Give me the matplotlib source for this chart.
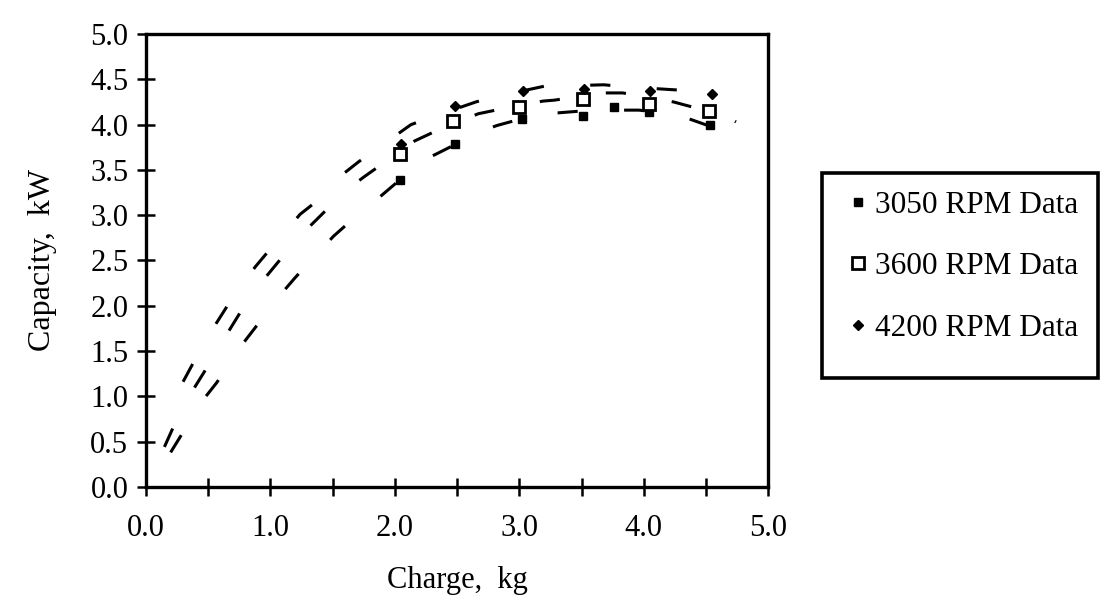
import matplotlib
matplotlib.use("Agg")
import matplotlib.pyplot as plt
from matplotlib.patches import Rectangle
from matplotlib.ticker import MultipleLocator, FormatStrFormatter

charge_3050 = [2.04, 2.48, 3.02, 3.51, 3.76, 4.04, 4.53]
cap_3050 = [3.39, 3.79, 4.06, 4.09, 4.20, 4.14, 4.00]
charge_3600 = [2.04, 2.47, 3.00, 3.51, 4.04, 4.52]
cap_3600 = [3.68, 4.04, 4.20, 4.28, 4.23, 4.15]
charge_4200 = [2.05, 2.48, 3.03, 3.52, 4.05, 4.55]
cap_4200 = [3.79, 4.21, 4.37, 4.39, 4.37, 4.34]

# dashed model curves, traced point by point
curve_x_3050 = [0.20, 0.33, 0.455, 0.57, 0.74, 0.875, 1.05, 1.20, 1.38, 1.51,
                1.715, 1.87, 2.22, 2.34, 2.70, 2.82, 3.19, 3.31, 3.59, 3.64,
                3.88, 3.96, 4.27, 4.35, 4.68, 4.76]
curve_y_3050 = [0.38, 0.67, 0.95, 1.15, 1.51, 1.75, 2.07, 2.31, 2.58, 2.77,
                3.02, 3.19, 3.60, 3.68, 3.93, 3.99, 4.13, 4.13, 4.16, 4.16,
                4.16, 4.16, 4.11, 4.07, 3.91, 3.88]
curve_x_3600 = [0.15, 0.235, 0.38, 0.475, 0.64, 0.77, 0.96, 1.08, 1.305, 1.43,
                1.645, 1.75, 2.16, 2.30, 2.67, 2.81, 3.19, 3.28, 3.68, 3.83,
                4.24, 4.32, 4.65, 4.74]
curve_y_3600 = [0.44, 0.70, 1.07, 1.28, 1.66, 1.95, 2.31, 2.51, 2.86, 3.03,
                3.31, 3.42, 3.82, 3.91, 4.12, 4.16, 4.26, 4.27, 4.35, 4.35,
                4.25, 4.22, 4.10, 4.03]
curve_x_4200 = [0.30, 0.39, 0.55, 0.67, 0.88, 0.99, 1.24, 1.36, 1.59, 1.71,
                2.13, 2.27, 2.65, 2.78, 3.22, 3.41, 3.68, 3.83, 4.30, 4.43]
curve_y_4200 = [1.16, 1.39, 1.77, 2.03, 2.43, 2.61, 3.01, 3.14, 3.46, 3.59,
                4.00, 4.07, 4.25, 4.30, 4.43, 4.43, 4.44, 4.42, 4.38, 4.34]

series_labels = ["3050 RPM Data", "3600 RPM Data", "4200 RPM Data"]

plt.rcParams['font.family'] = ['Liberation Serif', 'DejaVu Serif']

fig = plt.figure(figsize=(11.04, 5.98), dpi=100)
ax = fig.add_axes([0.132, 0.186, 0.564, 0.757])

dash = (0, (6.6, 15.2))
for cx, cy in [(curve_x_3050, curve_y_3050),
               (curve_x_3600, curve_y_3600),
               (curve_x_4200, curve_y_4200)]:
    ax.plot(cx, cy, color='black', lw=2.2, linestyle=dash,
            dash_capstyle='butt')

h1, = ax.plot(charge_3050, cap_3050, linestyle='none', marker='s',
              ms=6, color='black', zorder=5)
h2, = ax.plot(charge_3600, cap_3600, linestyle='none', marker='s',
              ms=8, mfc='white', mec='black', mew=2, zorder=6)
h3, = ax.plot(charge_4200, cap_4200, linestyle='none', marker='D',
              ms=5, color='black', zorder=7)

ax.set_xlim(0, 5)
ax.set_ylim(0, 5)
ax.xaxis.set_major_locator(MultipleLocator(0.5))
ax.xaxis.set_major_formatter(
    plt.FuncFormatter(lambda v, p: f"{v:.1f}" if abs(v - round(v)) < 1e-6 else ""))
ax.yaxis.set_major_locator(MultipleLocator(0.5))
ax.yaxis.set_major_formatter(FormatStrFormatter('%.1f'))

ax.tick_params(axis='both', direction='inout', length=13, width=1.8,
               labelsize=22, colors='black')
ax.tick_params(axis='x', pad=13)
ax.tick_params(axis='y', pad=6)
for s in ax.spines.values():
    s.set_linewidth(2.4)

ax.set_xlabel("Charge,  kg", fontsize=22, labelpad=17)
ax.set_ylabel("Capacity,  kW", fontsize=23, labelpad=24)

# legend box drawn separately so its padding can match the scan
fig.patches.append(Rectangle((0.7446, 0.368), 0.25, 0.343,
                             transform=fig.transFigure, fill=False,
                             edgecolor='black', linewidth=2.6))
fig.legend([h1, h2, h3], series_labels, loc='center left',
           bbox_to_anchor=(0.7658, 0.5543), fontsize=22.5, frameon=False,
           handlelength=0.8, handletextpad=0.15, labelspacing=1.04,
           borderpad=0.0, borderaxespad=0.0)

fig.savefig("out.png", dpi=100, facecolor='white')
